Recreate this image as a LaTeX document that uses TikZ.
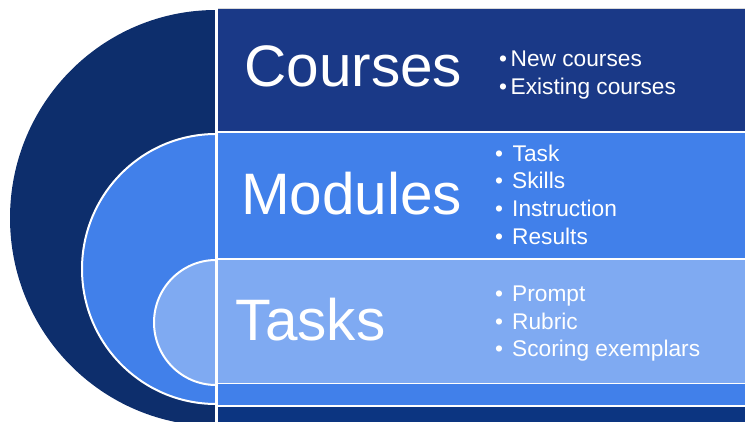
\documentclass[tikz,border=0pt]{standalone}
\usepackage{fontspec}
\setmainfont{Liberation Sans}
\definecolor{ringnavy}{RGB}{13,46,108}
\definecolor{coursebg}{RGB}{26,57,135}
\definecolor{basebg}{RGB}{12,53,129}
\definecolor{modbg}{RGB}{65,128,234}
\definecolor{taskbg}{RGB}{127,170,242}
\begin{document}
\begin{tikzpicture}[x=1pt,y=1pt,
  title/.style={anchor=base west, inner sep=0pt, text=white, font=\fontsize{58.5}{62}\selectfont},
  item/.style={anchor=base west, inner sep=0pt, text=white, font=\fontsize{22.7}{27}\selectfont},
  bullet/.style={anchor=base, inner sep=0pt, text=white, font=\fontsize{22.7}{27}\selectfont},
  rim/.style={draw=white, line width=2pt}]
\useasboundingbox (0,0) rectangle (745,421);
\begin{scope}
  \clip (0,0) rectangle (745,421);
  % outer level: half ellipse and band
  \fill[ringnavy] (216,411) arc[start angle=90, end angle=270, x radius=206, y radius=208] -- cycle;
  \fill[coursebg] (217,-10) rectangle (746,412);
  \draw[black!15, line width=1pt] (217,412.5) -- (746,412.5);
  \fill[basebg] (217,-10) rectangle (746,15.5);
  % middle level
  \filldraw[fill=modbg, rim] (217,15.5) rectangle (747,288.5);
  \filldraw[fill=modbg, rim] (216,287) arc[start angle=90, end angle=270, x radius=134, y radius=135] -- cycle;
  % inner level
  \filldraw[fill=taskbg, draw=white, line width=1.5pt] (217,37.5) rectangle (747,162);
  \filldraw[fill=taskbg, rim] (216,161) arc[start angle=90, end angle=270, x radius=62, y radius=62.5] -- cycle;
  % divider between the arcs and the bands
  \draw[white, line width=3pt] (216.5,-5) -- (216.5,414);
\end{scope}

% titles
\node[title] (courses) at (244.2,334) {Courses};
\node[title] (modules) at (240.8,206) {Modules};
\node[title] (tasks) at (235.6,81) {Tasks};

% course items
\node[bullet] (bc1) at (503,354) {•};
\node[item] (c1) at (510.5,354) {New courses};
\node[bullet] (bc2) at (503,326) {•};
\node[item] (c2) at (510.5,326) {Existing courses};

% module items
\node[bullet] (bm1) at (499,259) {•};
\node[item] (m1) at (512.5,259) {Task};
\node[bullet] (bm2) at (499,232) {•};
\node[item] (m2) at (512,232) {Skills};
\node[bullet] (bm3) at (499,204) {•};
\node[item] (m3) at (512,204) {Instruction};
\node[bullet] (bm4) at (499,176) {•};
\node[item] (m4) at (512,176) {Results};

% task items
\node[bullet] (bt1) at (499,119) {•};
\node[item] (t1) at (512,119) {Prompt};
\node[bullet] (bt2) at (499,92) {•};
\node[item] (t2) at (512,92) {Rubric};
\node[bullet] (bt3) at (499,65) {•};
\node[item] (t3) at (512,65) {Scoring exemplars};
\end{tikzpicture}
\end{document}
